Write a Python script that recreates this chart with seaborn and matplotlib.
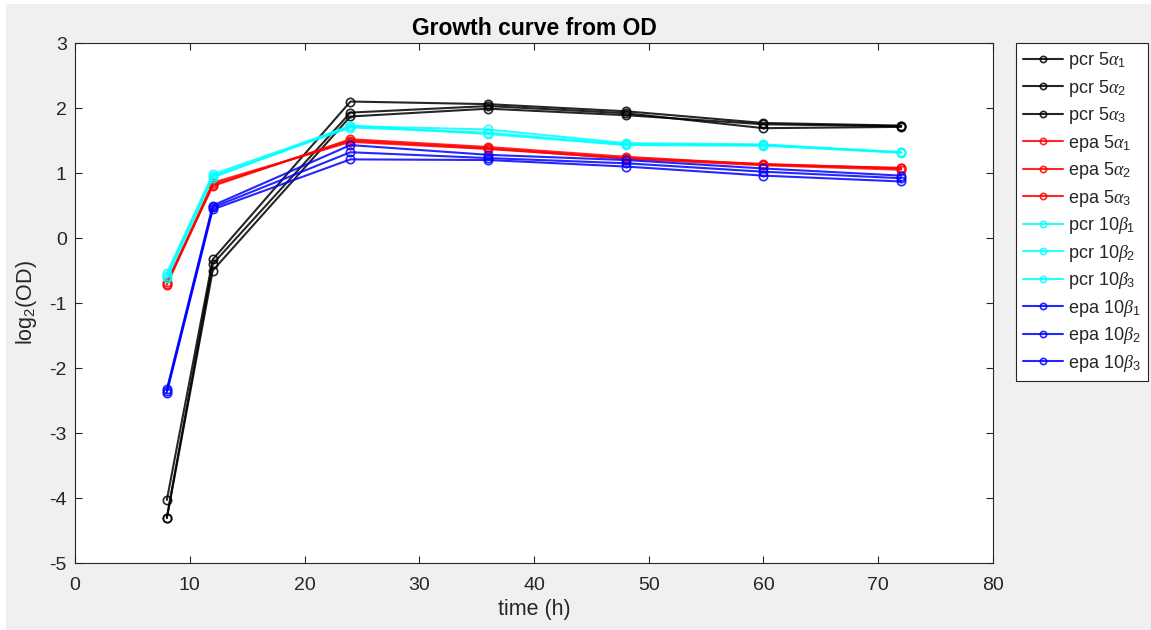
import matplotlib
matplotlib.use("Agg")
import matplotlib.pyplot as plt
import matplotlib.patches as mpatches
import seaborn as sns
import pandas as pd

time_h = [8, 12, 24, 36, 48, 60, 72]

series_labels = [
    r"pcr 5$\alpha_1$", r"pcr 5$\alpha_2$", r"pcr 5$\alpha_3$",
    r"epa 5$\alpha_1$", r"epa 5$\alpha_2$", r"epa 5$\alpha_3$",
    r"pcr 10$\beta_1$", r"pcr 10$\beta_2$", r"pcr 10$\beta_3$",
    r"epa 10$\beta_1$", r"epa 10$\beta_2$", r"epa 10$\beta_3$",
]

pcr5_a1 = [-4.03, -0.33, 2.10, 2.06, 1.95, 1.77, 1.73]
pcr5_a2 = [-4.30, -0.40, 1.93, 2.03, 1.92, 1.69, 1.71]
pcr5_a3 = [-4.31, -0.50, 1.87, 1.99, 1.89, 1.75, 1.72]
epa5_a1 = [-0.68, 0.80, 1.52, 1.40, 1.25, 1.13, 1.08]
epa5_a2 = [-0.72, 0.82, 1.50, 1.38, 1.22, 1.12, 1.05]
epa5_a3 = [-0.70, 0.85, 1.48, 1.37, 1.23, 1.14, 1.07]
pcr10_b1 = [-0.54, 0.98, 1.72, 1.67, 1.46, 1.44, 1.32]
pcr10_b2 = [-0.58, 0.95, 1.70, 1.62, 1.44, 1.43, 1.31]
pcr10_b3 = [-0.62, 0.93, 1.73, 1.60, 1.43, 1.42, 1.32]
epa10_b1 = [-2.33, 0.50, 1.43, 1.28, 1.20, 1.07, 0.96]
epa10_b2 = [-2.35, 0.47, 1.32, 1.23, 1.15, 1.02, 0.92]
epa10_b3 = [-2.38, 0.44, 1.21, 1.20, 1.10, 0.96, 0.87]

all_series = [pcr5_a1, pcr5_a2, pcr5_a3, epa5_a1, epa5_a2, epa5_a3,
              pcr10_b1, pcr10_b2, pcr10_b3, epa10_b1, epa10_b2, epa10_b3]
series_colors = ["black"] * 3 + ["red"] * 3 + ["cyan"] * 3 + ["blue"] * 3

sns.set_theme(style="white")
plt.rcParams["font.family"] = ["Liberation Sans", "DejaVu Sans"]
plt.rcParams["mathtext.fontset"] = "custom"
plt.rcParams["mathtext.rm"] = "Liberation Sans"
plt.rcParams["mathtext.it"] = "Liberation Serif:italic"
plt.rcParams["axes.unicode_minus"] = False

fig = plt.figure(figsize=(11.51, 6.30), dpi=100, facecolor="white")
fig.patches.append(mpatches.Rectangle((6 / 1151, 0), 1 - 6 / 1151, 1 - 4 / 630,
                                      transform=fig.transFigure,
                                      facecolor="#f0f0f0", edgecolor="none",
                                      zorder=-10))
ax = fig.add_axes([0.0652, 0.1063, 0.7975, 0.8254])
ax.set_facecolor("white")

for lab, vals, col in zip(series_labels, all_series, series_colors):
    df = pd.DataFrame({"time": time_h, "val": vals})
    sns.lineplot(data=df, x="time", y="val", ax=ax, color=col, marker="o",
                 markersize=6, markerfacecolor="none", markeredgecolor=col,
                 markeredgewidth=1.2, linewidth=1.5, label=lab, alpha=0.85)

ax.set_xlim(0, 80)
ax.set_ylim(-5, 3)
ax.set_xticks(range(0, 81, 10))
ax.set_yticks(range(-5, 4))
ax.tick_params(direction="in", length=5, width=0.8, labelsize=14,
               colors="#262626", top=True, right=True, bottom=True, left=True,
               labeltop=False, labelright=False)
ax.tick_params(axis="x", pad=10)
ax.tick_params(axis="y", pad=6)
for s in ax.spines.values():
    s.set_color("#262626")
    s.set_linewidth(0.8)
    s.set_visible(True)

ax.set_xlabel("time (h)", fontsize=15.5, color="#262626", labelpad=4)
ax.set_ylabel(r"log$_2$(OD)", fontsize=15.5, color="#262626", labelpad=7)
ax.set_title("Growth curve from OD", fontsize=16.5, fontweight="bold",
             color="black", pad=6)

leg = ax.legend(loc="upper left", bbox_to_anchor=(1.025, 1.0), fontsize=13,
                frameon=True, fancybox=False, edgecolor="#262626",
                handlelength=2.2, handletextpad=0.3, labelspacing=0.36,
                borderpad=0.4, borderaxespad=0.0, framealpha=1)
leg.get_frame().set_linewidth(0.8)
for h in leg.get_lines():
    h.set_markersize(4.5)

fig.savefig("out.png", dpi=100, facecolor=fig.get_facecolor())
